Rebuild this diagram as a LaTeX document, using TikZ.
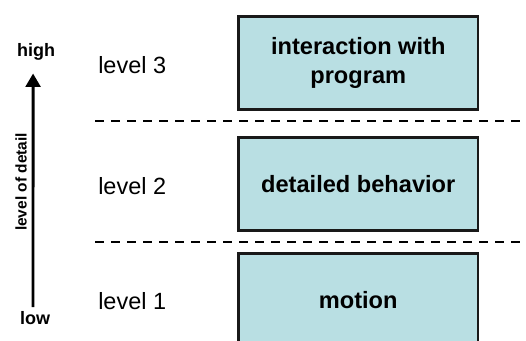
\documentclass[tikz,border=0pt]{standalone}
\usepackage{fontspec}
\setmainfont{Liberation Sans}
\usepackage{tikz}
\usetikzlibrary{arrows.meta,positioning,calc}
\definecolor{boxblue}{RGB}{185,223,227}

\begin{document}
\begin{tikzpicture}[x=0.75pt,y=-0.75pt,
		levelbox/.style={draw=black!90, line width=2.2pt, fill=boxblue,
			minimum width=179.6pt, minimum height=69.8pt, align=center,
			font=\fontsize{17.7}{21.8}\selectfont\bfseries},
		lvl/.style={inner sep=0pt, font=\fontsize{17.6}{21}\selectfont},
		ends/.style={font=\fontsize{13.5}{16}\selectfont\bfseries},
		sep/.style={line width=1.1pt, dash pattern=on 7pt off 5pt} ]
		\clip (0,0) rectangle (526,341);

		% the three levels
		\node[levelbox] (box3) at (358.25,63) {interaction with\\program};
		\node[levelbox] (box2) at (358.25,184.25) {detailed behavior};
		\node[levelbox] (box1) at (358.25,300) {motion};

		\node[lvl, left=53pt of box3, yshift=-1.8pt] (lvl3) {level 3};
		\node[lvl, left=53pt of box2, yshift=-1.3pt] (lvl2) {level 2};
		\node[lvl, left=53pt of box1, yshift=-0.5pt] (lvl1) {level 1};

		\draw[sep] (95,121)--(526,121);
		\draw[sep] (95,242)--(526,242);

		% axis on the left
		\node[ends] (high) at (36,51.7) {high};
		\node[ends] (low) at (35,318.5) {low};
		\draw[-{Triangle[length=10pt,width=11pt]}, line width=2.2pt, shorten >=6.5pt]
			([xshift=-1.5pt]low.north)--([xshift=-2.2pt]high.south);
		\node[rotate=90, font=\fontsize{11.6}{14}\selectfont\bfseries] (detail) at (21,182) {level of detail};
	\end{tikzpicture}
\end{document}
